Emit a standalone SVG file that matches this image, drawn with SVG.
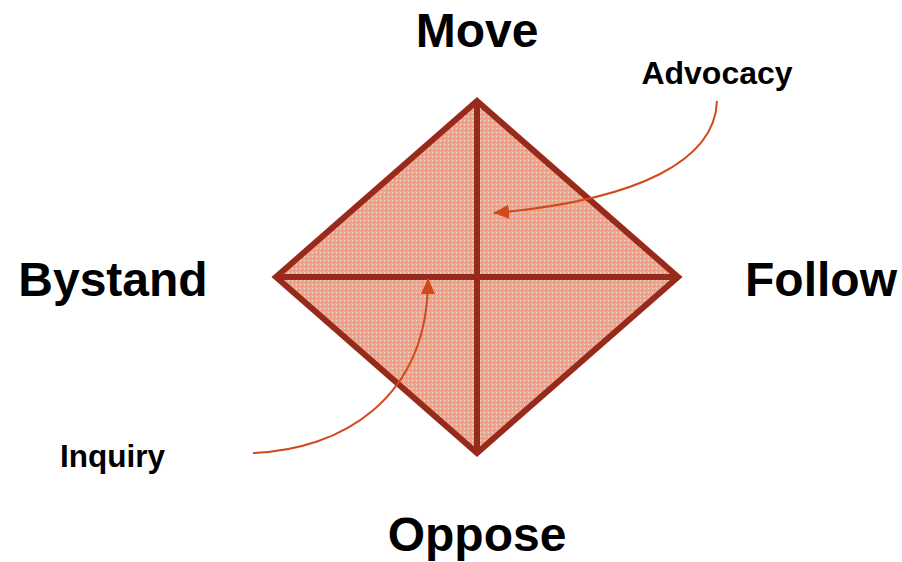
<svg xmlns="http://www.w3.org/2000/svg" width="902" height="562" viewBox="0 0 902 562">
<style>
.lbl{font-family:"Liberation Sans",Arial,sans-serif;font-weight:bold;fill:#000;text-anchor:middle}
.big{font-size:48px}
.small{font-size:32px}
.shape{fill:url(#dots);stroke:#982a1c;stroke-width:6;stroke-linejoin:miter}
.edge{fill:none;stroke:#982a1c;stroke-width:6}
.conn{fill:none;stroke:#d04a1c;stroke-width:2}
</style>
<defs>
<pattern id="dots" width="4" height="4" patternUnits="userSpaceOnUse">
<rect width="4" height="4" fill="#eba995"/>
<rect x="0" y="0" width="1" height="1" fill="#f8dcd2"/>
<rect x="2" y="2" width="1" height="1" fill="#e2805f"/>
</pattern>
<marker id="ah" markerWidth="16" markerHeight="14" refX="15" refY="7" orient="auto" markerUnits="userSpaceOnUse">
<path d="M0,0 L16,7 L0,14 Z" fill="#d04a1c"/>
</marker>
</defs>
<g id="diamond">
<polygon points="477,101 678,277 477,453 276,277" class="shape"/>
<line x1="477" y1="101" x2="477" y2="453" class="edge"/>
<line x1="276" y1="277" x2="678" y2="277" class="edge"/>
</g>
<g id="move"><text x="477" y="47" class="lbl big">Move</text></g>
<g id="bystand"><text x="113" y="296" class="lbl big">Bystand</text></g>
<g id="follow"><text x="821" y="296" class="lbl big">Follow</text></g>
<g id="oppose"><text x="477" y="551" class="lbl big">Oppose</text></g>
<g id="advocacy"><text x="717" y="84" class="lbl small">Advocacy</text></g>
<g id="inquiry"><text x="112.5" y="467" class="lbl" style="font-size:31.5px">Inquiry</text></g>
<g id="connectors">
<path d="M717,101 C715,160 640,200 494,213" class="conn" marker-end="url(#ah)"/>
<path d="M253,453 C340,450 428,400 428,279" class="conn" marker-end="url(#ah)"/>
</g>
</svg>
